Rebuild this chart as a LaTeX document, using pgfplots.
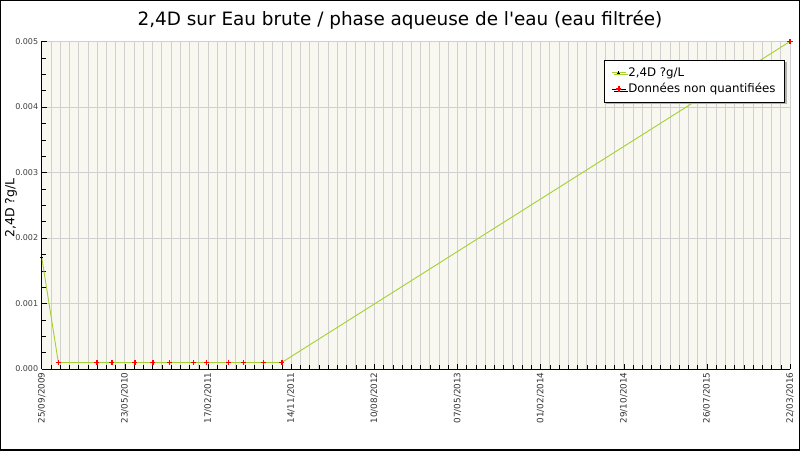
\documentclass[border=0pt]{standalone}
\usepackage{pgfplots}
\pgfplotsset{compat=1.18}
\usepackage{fontspec}
\setmainfont{DejaVu Sans}
\usetikzlibrary{shadows}
\definecolor{cream}{RGB}{248,248,240}
\definecolor{gridgray}{RGB}{208,208,208}
\definecolor{lgreen}{RGB}{165,208,50}
\begin{document}
\begin{tikzpicture}[x=1pt,y=1pt]
\useasboundingbox (0,0) rectangle (800,450);
\fill[white] (0,0) rectangle (800,450);
\draw[black,line width=1.5pt] (0,0) rectangle (800,450);
\node[font=\fontsize{18.4}{22}\selectfont] at (400,430) {2,4D sur Eau brute / phase aqueuse de l\textquotesingle eau (eau filtrée)};
\begin{axis}[
  at={(41.7pt,81pt)}, anchor=south west,
  scale only axis, width=748.3pt, height=327.5pt,
  xmin=0, xmax=9, ymin=0, ymax=0.005,
  axis lines*=left,
  axis background/.style={fill=cream},
  tick align=inside,
  major tick length=5pt, minor tick length=4pt,
  every tick/.style={black},
  xtick={0,...,9},
  xticklabels={25/09/2009,23/05/2010,17/02/2011,14/11/2011,10/08/2012,07/05/2013,01/02/2014,29/10/2014,26/07/2015,22/03/2016},
  x tick label style={rotate=90, anchor=east, font=\fontsize{8.8}{10}\selectfont, text=black!80},
  minor x tick num=8,
  ytick={0,0.001,0.002,0.003,0.004,0.005},
  minor y tick num=3,
  y tick label style={font=\fontsize{8}{10}\selectfont, text=black!75, /pgf/number format/.cd, fixed, fixed zerofill, precision=3, assume math mode=true},
  scaled y ticks=false,
  xmajorgrids, xminorgrids, ymajorgrids,
  major grid style={gridgray, line width=0.75pt},
  minor grid style={gridgray, line width=0.75pt},
  legend image code/.code={\draw[mark repeat=2,mark phase=2,#1] plot coordinates {(0cm,0cm) (0.25cm,0cm) (0.5cm,0cm)};},
  legend style={at={(0.9933,0.944)}, anchor=north east, draw=black, line width=0.8pt, fill=white,
    font=\fontsize{11.8}{13}\selectfont, legend cell align=left,
    drop shadow={shadow xshift=2pt, shadow yshift=-2pt, fill=gray!60, opacity=1},
    inner xsep=7pt, inner ysep=5.5pt, row sep=1.5pt},
  clip=false,
]
\addplot[lgreen, line width=0.9pt, mark=+, mark size=1.6pt, mark options={black, line width=0.6pt}] coordinates {
(0,0.00171) (0.200,0.0001) (0.662,0.0001) (0.842,0.0001) (1.119,0.0001) (1.336,0.0001) (1.536,0.0001) (1.824,0.0001) (1.981,0.0001) (2.245,0.0001) (2.426,0.0001) (2.667,0.0001) (2.888,0.0001) (9,0.005)
};
\addlegendentry{2,4D ?g/L}
\addplot[only marks, mark=+, mark size=2.6pt, mark options={red, line width=1.6pt}, forget plot] coordinates {
(0.200,0.0001) (0.662,0.0001) (0.842,0.0001) (1.119,0.0001) (1.336,0.0001) (1.536,0.0001) (1.824,0.0001) (1.981,0.0001) (2.245,0.0001) (2.426,0.0001) (2.667,0.0001) (2.888,0.0001) (9,0.005)
};
\addlegendimage{black, line width=0.8pt, mark=+, mark size=2.6pt, mark options={red, line width=1.6pt}}
\addlegendentry{Données non quantifiées}
\end{axis}
\node[rotate=90, font=\fontsize{12.5}{14}\selectfont] at (11,242) {2,4D ?g/L};
\end{tikzpicture}
\end{document}
